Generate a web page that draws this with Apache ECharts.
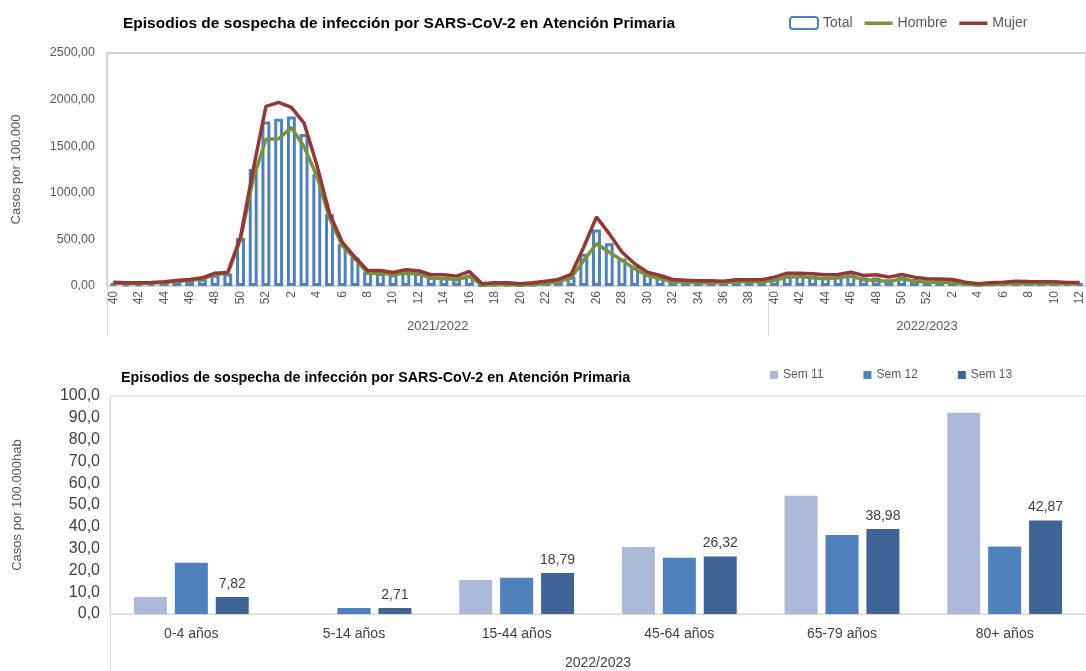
<!DOCTYPE html>
<html>
<head>
<meta charset="utf-8">
<script src="https://cdn.jsdelivr.net/npm/echarts@6/dist/echarts.min.js"></script>
<style>
  html, body { margin: 0; padding: 0; background: #fff; }
  #chart { width: 1086px; height: 671px; }
</style>
</head>
<body>
<div id="chart"></div>
<script>
// semanas epidemiologicas (temporadas 2021/2022 y 2022/2023)
const weekLabels = [
  "40","41","42","43","44","45","46","47","48","49","50","51","52",
  "1","2","3","4","5","6","7","8","9","10","11","12","13","14","15","16","17","18","19","20",
  "21","22","23","24","25","26","27","28","29","30","31","32","33","34","35","36","37","38","39",
  "40","41","42","43","44","45","46","47","48","49","50","51","52",
  "1","2","3","4","5","6","7","8","9","10","11","12"
];
const seasons = ["2021/2022", "2022/2023"];
const seasonStart = [0, 52];

const total = [
  30, 28, 28, 32, 40, 50, 62, 78, 120, 135, 515, 1255, 1765,
  1795, 1820, 1630, 1200, 770, 447, 305, 150, 140, 125, 150, 140, 100, 95, 80, 120, 12, 20, 20, 15,
  20, 35, 55, 100, 345, 605, 460, 295, 210, 130, 95, 55, 50, 45, 45, 40, 55, 55, 55,
  75, 115, 120, 110, 100, 105, 125, 90, 90, 70, 100, 75, 60,
  58, 52, 30, 18, 25, 30, 40, 36, 35, 35, 32, 32
];
const hombre = [
  32, 28, 28, 33, 38, 50, 58, 75, 125, 135, 500, 1150, 1575,
  1580, 1700, 1495, 1180, 727, 436, 293, 138, 138, 124, 138, 130, 84, 80, 69, 102, 9, 15, 15, 10,
  15, 28, 45, 88, 275, 454, 364, 275, 185, 113, 77, 45, 40, 35, 35, 33, 45, 45, 45,
  59, 95, 102, 88, 77, 88, 106, 67, 59, 48, 77, 52, 41,
  41, 34, 20, 13, 18, 22, 30, 28, 27, 27, 25, 25
];
const mujer = [
  41, 34, 34, 38, 45, 59, 70, 88, 138, 146, 526, 1250, 1927,
  1970, 1916, 1748, 1300, 778, 472, 311, 167, 167, 146, 174, 164, 121, 121, 106, 156, 24, 34, 34, 24,
  34, 52, 70, 124, 418, 741, 562, 364, 239, 149, 113, 70, 63, 56, 56, 52, 67, 67, 67,
  95, 138, 138, 131, 121, 124, 149, 113, 120, 95, 124, 95, 77,
  74, 70, 41, 24, 34, 41, 52, 48, 45, 45, 38, 38
];

// grupos de edad, semanas 11-13 de 2023
const ageGroups = ["0-4 años", "5-14 años", "15-44 años", "45-64 años", "65-79 años", "80+ años"];
const sem11 = [7.8, 0, 15.6, 30.7, 54.2, 92.3];
const sem12 = [23.5, 2.8, 16.6, 25.8, 36.2, 31.0];
const sem13 = [7.82, 2.71, 18.79, 26.32, 38.98, 42.87];

const FONT = "'Liberation Sans', Arial, sans-serif";
const GREY = "#595959";
// icono de linea gruesa para la leyenda
const LINE_ICON = "path://M0,0L0.01,0Z M0,4.5L28,4.5L28,8L0,8Z M0,12L0.01,12Z";

const chart = echarts.init(document.getElementById("chart"));
chart.setOption({
  animation: false,
  textStyle: { fontFamily: FONT },
  title: [
    {
      text: "Episodios de sospecha de infección por SARS-CoV-2 en Atención Primaria",
      left: 118, top: 11,
      textStyle: { fontSize: 15.5, fontWeight: "bold", color: "#000" }
    },
    {
      text: "Episodios de sospecha de infección por SARS-CoV-2 en Atención Primaria",
      left: 116, top: 366,
      textStyle: { fontSize: 14.3, fontWeight: "bold", color: "#000" }
    }
  ],
  legend: [
    {
      data: [
        { name: "Total" },
        { name: "Hombre", icon: LINE_ICON },
        { name: "Mujer", icon: LINE_ICON }
      ],
      left: 784, top: 11,
      itemWidth: 28, itemHeight: 12, itemGap: 12,
      textStyle: { fontSize: 14, color: GREY }
    },
    {
      data: ["Sem 11", "Sem 12", "Sem 13"],
      left: 765, top: 364,
      icon: "rect",
      itemWidth: 8, itemHeight: 8, itemGap: 40,
      textStyle: { fontSize: 12, color: GREY }
    }
  ],
  grid: [
    { left: 107, right: 0, top: 53, bottom: 385, show: true, borderColor: "#a6a6a6", borderWidth: 1 },
    { left: 110, right: 0, top: 396, bottom: 57, show: true, borderColor: "#d9d9d9", borderWidth: 1 }
  ],
  xAxis: [
    {
      type: "category", gridIndex: 0, data: weekLabels,
      axisLine: { lineStyle: { color: "#d9d9d9" } },
      axisTick: { interval: 0, length: 3, lineStyle: { color: "#d9d9d9" } },
      axisLabel: { interval: 1, rotate: 90, margin: 5, fontSize: 12, color: GREY }
    },
    {
      type: "category", gridIndex: 0, data: weekLabels, position: "bottom",
      axisLine: { show: true, lineStyle: { color: "rgba(0,0,0,0)" } },
      axisTick: {
        show: true,
        interval: (i) => seasonStart.indexOf(i) >= 0,
        length: 50, lineStyle: { color: "#d9d9d9" }
      },
      axisLabel: {
        interval: (i) => i === 25 || i === 64,
        margin: 34, fontSize: 13, color: GREY,
        formatter: (v, i) => i === 25 ? "{a|" + seasons[0] + "}" : seasons[1],
        rich: { a: { fontSize: 13, color: GREY, padding: [0, 0, 0, 13] } }
      }
    },
    {
      type: "category", gridIndex: 1, data: ageGroups,
      axisLine: { lineStyle: { color: "#d9d9d9" } },
      axisTick: { show: false },
      axisLabel: { margin: 13, fontSize: 14, color: "#404040" }
    },
    {
      type: "category", gridIndex: 1, data: ["2022/2023"], position: "bottom",
      axisLine: { show: true, lineStyle: { color: "rgba(0,0,0,0)" } },
      axisTick: { show: true, length: 60, lineStyle: { color: "#d9d9d9" } },
      axisLabel: { margin: 42, fontSize: 14, color: "#404040" }
    }
  ],
  yAxis: [
    {
      type: "value", gridIndex: 0, min: 0, max: 2500, interval: 500,
      name: "Casos por 100.000", nameLocation: "middle", nameGap: 84,
      nameTextStyle: { fontSize: 13, color: GREY },
      axisLine: { show: false }, axisTick: { show: false },
      splitLine: { show: false },
      axisLabel: { fontSize: 12.5, color: GREY, margin: 12, formatter: (v) => v.toFixed(2).replace(".", ",") }
    },
    {
      type: "value", gridIndex: 1, min: 0, max: 100, interval: 10,
      name: "Casos por 100.000hab", nameLocation: "middle", nameGap: 86,
      nameTextStyle: { fontSize: 13, color: GREY },
      axisLine: { show: true, lineStyle: { color: "#d9d9d9" } }, axisTick: { show: false },
      splitLine: { show: false },
      axisLabel: { fontSize: 16, color: "#404040", margin: 10, formatter: (v) => v.toFixed(1).replace(".", ",") }
    }
  ],
  series: [
    {
      name: "Total", type: "bar", xAxisIndex: 0, yAxisIndex: 0, data: total,
      barWidth: "70%",
      itemStyle: { color: "#ffffff", borderColor: "#4f81bd", borderWidth: 3 }
    },
    {
      name: "Hombre", type: "line", xAxisIndex: 0, yAxisIndex: 0, data: hombre,
      symbol: "none", lineStyle: { color: "#77933c", width: 3.5 }, itemStyle: { color: "#77933c" }
    },
    {
      name: "Mujer", type: "line", xAxisIndex: 0, yAxisIndex: 0, data: mujer,
      symbol: "none", lineStyle: { color: "#953735", width: 3.5 }, itemStyle: { color: "#953735" }
    },
    {
      name: "Sem 11", type: "bar", xAxisIndex: 2, yAxisIndex: 1, data: sem11,
      barWidth: 33, barGap: "24%", itemStyle: { color: "#adb9d9" }
    },
    {
      name: "Sem 12", type: "bar", xAxisIndex: 2, yAxisIndex: 1, data: sem12,
      barWidth: 33, barGap: "24%", itemStyle: { color: "#4f81bd" }
    },
    {
      name: "Sem 13", type: "bar", xAxisIndex: 2, yAxisIndex: 1, data: sem13,
      barWidth: 33, barGap: "24%", itemStyle: { color: "#3e6596" },
      label: {
        show: true, position: "top", distance: 6, fontSize: 14, color: "#404040",
        formatter: (p) => p.value.toFixed(2).replace(".", ",")
      }
    }
  ]
});
</script>
</body>
</html>
